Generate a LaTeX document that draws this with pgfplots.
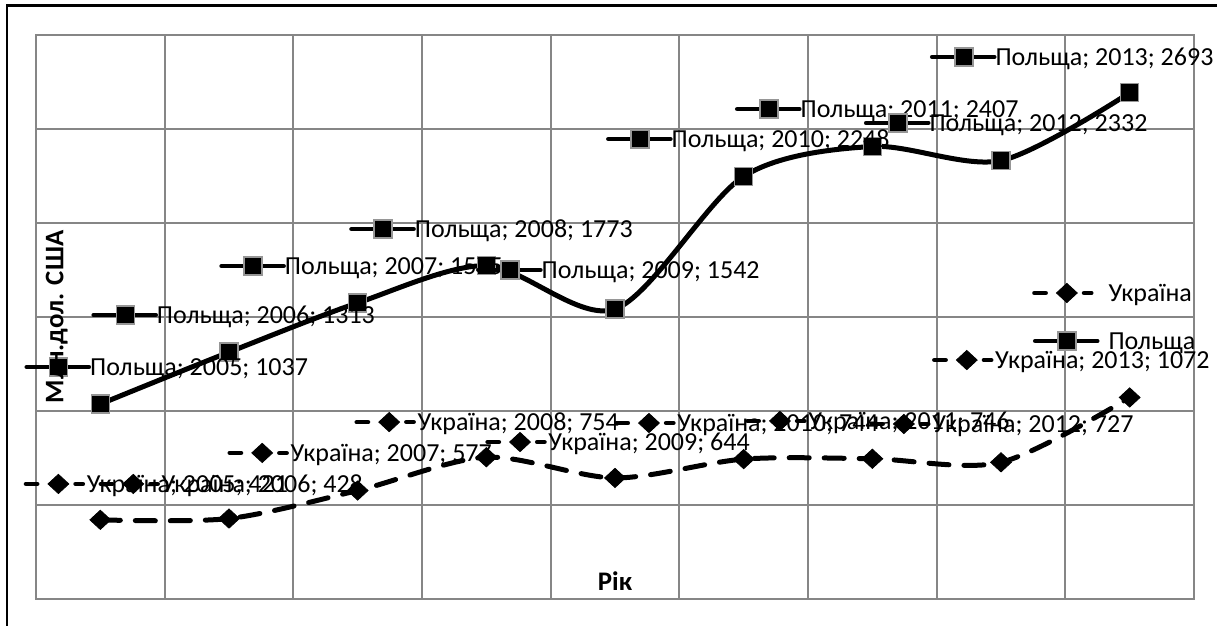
\documentclass[border=0pt]{standalone}
\usepackage{fontspec}
\setmainfont{Carlito}
\usepackage{pgfplots}
\usepackage{pgfplotstable}
\pgfplotsset{compat=1.18}

\definecolor{gridc}{RGB}{134,134,134}
\definecolor{mkedge}{RGB}{150,150,150}
\newcommand\lbl{\fontsize{13}{15.6}\selectfont}
\newcommand\ttl{\fontsize{13.4}{16}\selectfont\bfseries}

% Excel-like markers
\pgfdeclareplotmark{xsq}{%
  \pgfsetdash{}{0pt}\pgfsetlinewidth{0.7pt}\pgfsetmiterjoin
  \pgfsetstrokecolor{mkedge}\pgfsetfillcolor{black}%
  \pgfpathrectangle{\pgfqpoint{-4.5pt}{-4.5pt}}{\pgfqpoint{9pt}{9pt}}%
  \pgfusepath{fill,stroke}}
\pgfdeclareplotmark{xdia}{%
  \pgfsetdash{}{0pt}\pgfsetlinewidth{0.4pt}\pgfsetmiterjoin
  \pgfsetstrokecolor{black}\pgfsetfillcolor{black}%
  \pgfpathmoveto{\pgfqpoint{0pt}{4.8pt}}%
  \pgfpathlineto{\pgfqpoint{5.2pt}{0pt}}%
  \pgfpathlineto{\pgfqpoint{0pt}{-4.8pt}}%
  \pgfpathlineto{\pgfqpoint{-5.2pt}{0pt}}%
  \pgfpathclose\pgfusepath{fill,stroke}}
% legend keys as used by the data labels
\pgfdeclareplotmark{polkey}{%
  \pgfsetdash{}{0pt}\pgfsetlinewidth{2.3pt}\pgfsetroundcap
  \pgfsetstrokecolor{black}%
  \pgfpathmoveto{\pgfqpoint{-15.8pt}{0pt}}\pgfpathlineto{\pgfqpoint{15.2pt}{0pt}}%
  \pgfusepath{stroke}%
  \pgfuseplotmark{xsq}}
\pgfdeclareplotmark{ukrkey}{%
  \pgfsetdash{}{0pt}\pgfsetlinewidth{2.3pt}\pgfsetroundcap
  \pgfsetstrokecolor{black}%
  \pgfpathmoveto{\pgfqpoint{-16.2pt}{0pt}}\pgfpathlineto{\pgfqpoint{-10.6pt}{0pt}}%
  \pgfpathmoveto{\pgfqpoint{8.6pt}{0pt}}\pgfpathlineto{\pgfqpoint{12.2pt}{0pt}}%
  \pgfusepath{stroke}%
  \pgfuseplotmark{xdia}}

% label positions (key centre), year and value of each data label
\pgfplotstableread{
x      y     yr   val
-0.326 612   2005 421
0.256  612   2006 428
1.258  777   2007 577
2.245  941   2008 754
3.262  835   2009 644
4.264  936   2010 744
5.282  947   2011 746
6.245  931   2012 727
6.734  1271  2013 1072
}\ukrlabels
\pgfplotstableread{
x      y     yr   val
-0.326 1234  2005 1037
0.194  1511  2006 1313
1.188  1771  2007 1575
2.198  1968  2008 1773
3.184  1750  2009 1542
4.194  2447  2010 2248
5.196  2606  2011 2407
6.198  2532  2012 2332
6.711  2883  2013 2693
}\pollabels

\begin{document}
\begin{tikzpicture}
\begin{axis}[
    name=ax,
    scale only axis, width=579pt, height=282pt,
    xmin=-0.5, xmax=8.5, ymin=0, ymax=3000,
    xtick={-0.5,0.5,...,8.5}, ytick={0,500,...,3000},
    xticklabels={}, yticklabels={},
    major tick length=0pt,
    grid=major, grid style={gridc, line width=1pt},
    axis line style={gridc, line width=1pt},
    clip=false,
    xlabel={Рік},
    xlabel style={at={(axis description cs:0.5,0.032)}, anchor=center, font=\ttl},
    ylabel={Млн.дол. США},
    ylabel style={at={(axis description cs:0.0178,0.5)}, anchor=center, font=\ttl},
    legend style={draw=none, fill=none, inner xsep=0pt, inner ysep=0pt,
                  at={(axis cs:7.239,1500)}, anchor=west,
                  nodes={inner sep=0pt, text height=10.4pt, text depth=2pt, font=\lbl},
                  row sep=11.6pt, column sep=4.5pt},
    legend cell align={left},
]
% Україна
\addplot[black, line width=2.5pt, smooth, tension=0.5, line cap=round,
         dash pattern=on 10pt off 7.5pt, mark=xdia,
         legend image code/.code={\pgfuseplotmark{ukrkey}}]
  coordinates {(0,421) (1,428) (2,577) (3,754) (4,644) (5,744) (6,746) (7,727) (8,1072)};
\addlegendentry{Україна}
% Польща
\addplot[black, line width=2.5pt, smooth, tension=0.5, line cap=round, mark=xsq,
         legend image code/.code={\pgfuseplotmark{polkey}}]
  coordinates {(0,1037) (1,1313) (2,1575) (3,1773) (4,1542) (5,2248) (6,2407) (7,2332) (8,2693)};
\addlegendentry{Польща}

% data labels (Excel puts a small legend key in front of every label)
\addplot[forget plot, only marks, mark=ukrkey,
         point meta=explicit symbolic,
         visualization depends on={\thisrow{yr} \as \yr},
         nodes near coords={\pgfmathtruncatemacro\yri{\yr}Україна; \yri; \pgfplotspointmeta},
         nodes near coords style={anchor=base west, xshift=14pt, yshift=-4.2pt,
                                  inner sep=0pt, font=\lbl, text=black}]
  table[x=x, y=y, meta=val] {\ukrlabels};
\addplot[forget plot, only marks, mark=polkey,
         point meta=explicit symbolic,
         visualization depends on={\thisrow{yr} \as \yr},
         nodes near coords={\pgfmathtruncatemacro\yri{\yr}Польща; \yri; \pgfplotspointmeta},
         nodes near coords style={anchor=base west, xshift=15.5pt, yshift=-4.2pt,
                                  inner sep=0pt, font=\lbl, text=black}]
  table[x=x, y=y, meta=val] {\pollabels};
\end{axis}
% outer chart frame (only its left and top edges fall inside the picture)
\draw[black, line width=1.1pt]
  ([shift={(-14.5pt,-20pt)}]ax.south west) -- ([shift={(-14.5pt,14.75pt)}]ax.north west)
  -- ([shift={(20pt,14.75pt)}]ax.north east);
\pgfresetboundingbox
\path ([shift={(-18pt,-13pt)}]ax.south west) rectangle ([shift={(11.5pt,17.5pt)}]ax.north east);
\end{tikzpicture}
\end{document}
